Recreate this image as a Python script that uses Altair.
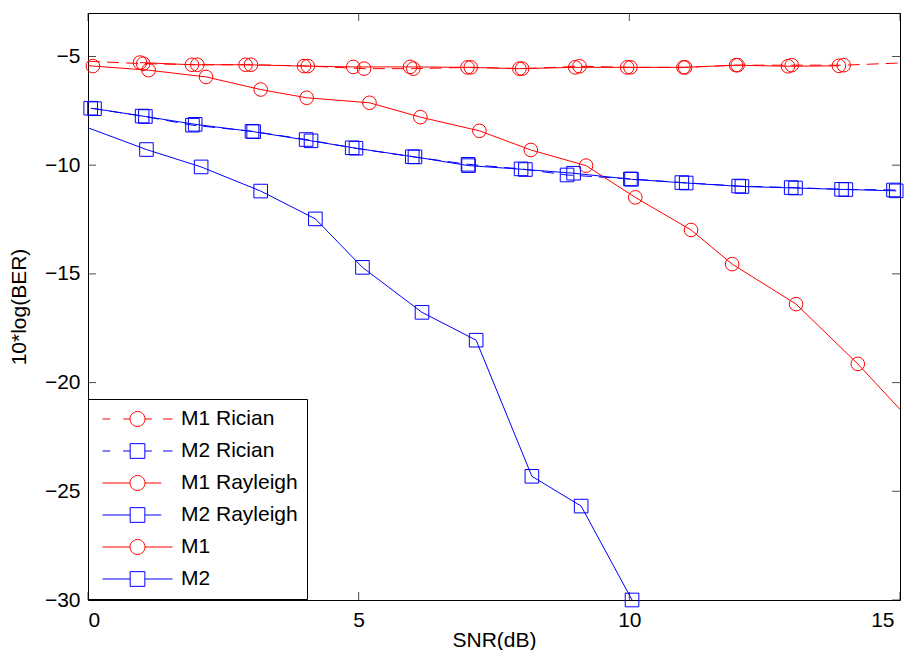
import altair as alt
import pandas as pd

# ---------------- data ----------------
series_names = ["M1 Rician", "M2 Rician", "M1 Rayleigh", "M2 Rayleigh", "M1", "M2"]
series_colors = ["#FF0000", "#0000FF", "#FF0000", "#0000FF", "#FF0000", "#0000FF"]
series_dashed = [True, True, False, False, False, False]
series_kind = ["circle", "square", "circle", "square", "circle", "square"]

m1_rician_x = [0, 1.02, 2.02, 3.01, 4.06, 5.10, 6.01, 7.07, 8.02, 9.08, 10.02, 11.03, 12.0, 13.0, 13.96, 15]
m1_rician_y = [-5.22, -5.33, -5.38, -5.38, -5.44, -5.56, -5.56, -5.50, -5.56, -5.45, -5.50, -5.50, -5.40, -5.40, -5.40, -5.30]
m1_rician_m = [0] + [1] * 14 + [0]

m2_rician_x = [0.05, 1.0, 1.93, 3.03, 4.03, 4.88, 5.99, 7.02, 8.0, 8.85, 10.02, 10.97, 12.02, 12.99, 13.92, 14.88, 15]
m2_rician_y = [-7.38, -7.74, -8.16, -8.44, -8.82, -9.20, -9.61, -9.96, -10.17, -10.45, -10.63, -10.80, -10.96, -11.03, -11.11, -11.14, -11.16]
m2_rician_m = [1] * 16 + [0]

m1_rayleigh_x = [0, 0.09, 1.12, 2.18, 3.19, 4.04, 5.2, 6.14, 7.23, 8.18, 9.2, 10.11, 11.14, 11.9, 13.08, 14.22, 15.0]
m1_rayleigh_y = [-5.42, -5.44, -5.63, -5.94, -6.52, -6.90, -7.13, -7.79, -8.42, -9.30, -10.02, -11.48, -12.98, -14.55, -16.39, -19.14, -21.23]
m1_rayleigh_m = [0] + [1] * 15 + [0]

m2_rayleigh_x = [0, 1.08, 2.09, 3.19, 4.2, 5.07, 6.17, 7.17, 8.2, 9.11, 10.05]
m2_rayleigh_y = [-8.28, -9.28, -10.08, -11.19, -12.47, -14.70, -16.77, -18.05, -24.31, -25.68, -30.0]
m2_rayleigh_m = [0] + [1] * 10

m1_x = [0.96, 1.92, 2.91, 3.99, 4.90, 5.95, 7.01, 7.97, 9.0, 9.96, 11.0, 11.97, 12.93, 13.87]
m1_y = [-5.28, -5.38, -5.38, -5.44, -5.48, -5.48, -5.50, -5.56, -5.50, -5.50, -5.50, -5.40, -5.45, -5.43]
m1_m = [1] * 14

m2_x = [0.12, 1.06, 1.98, 3.06, 4.12, 4.95, 6.04, 7.03, 8.08, 8.97, 10.04, 11.05, 12.08, 13.07, 14.0, 14.93]
m2_y = [-7.40, -7.76, -8.12, -8.46, -8.88, -9.22, -9.62, -10.02, -10.20, -10.37, -10.65, -10.82, -10.98, -11.05, -11.12, -11.18]
m2_m = [1] * 16

x_domain = [0, 15]
y_domain = [-30, -3]
x_ticks = [0, 5, 10, 15]
y_ticks = [-30, -25, -20, -15, -10, -5]

# legend symbols (line + marker) as unit-square paths
circle_path = "M0.214,0A0.214,0.214,0,1,1,-0.214,0A0.214,0.214,0,1,1,0.214,0Z"
square_path = "M-0.21,-0.21H0.21V0.21H-0.21Z"
dashed_line = "M-1,0H-0.78M-0.41,0H-0.214M0.214,0H0.41M0.73,0H1"
short_line = "M-1,0H-0.214M0.214,0H0.68"
full_line = "M-1,0H-0.214M0.214,0H1"
legend_paths = [
    dashed_line + circle_path,
    dashed_line + square_path,
    short_line + circle_path,
    short_line + square_path,
    full_line + circle_path,
    full_line + square_path,
]

# ---------------- table ----------------
all_series = [
    (m1_rician_x, m1_rician_y, m1_rician_m),
    (m2_rician_x, m2_rician_y, m2_rician_m),
    (m1_rayleigh_x, m1_rayleigh_y, m1_rayleigh_m),
    (m2_rayleigh_x, m2_rayleigh_y, m2_rayleigh_m),
    (m1_x, m1_y, m1_m),
    (m2_x, m2_y, m2_m),
]
rows = []
for name, kind, dashed, (xs, ys, ms) in zip(series_names, series_kind, series_dashed, all_series):
    for xv, yv, mv in zip(xs, ys, ms):
        rows.append({"series": name, "kind": kind, "dashed": dashed, "x": xv, "y": yv, "marker": bool(mv)})
df = pd.DataFrame(rows)

FONT = "Liberation Sans"
xscale = alt.Scale(domain=x_domain, nice=False, zero=False)
yscale = alt.Scale(domain=y_domain, nice=False, zero=False)
stroke_scale = alt.Scale(domain=series_names, range=series_colors)
xaxis = alt.Axis(
    values=x_ticks, title="SNR(dB)", labelPadding=9, format="d",
    labelOffset={"condition": {"test": "datum.value == 15", "value": -6}, "value": 0},
    titleBaseline="alphabetic", titleY=46,
)
yaxis = alt.Axis(values=y_ticks, title="10*log(BER)", labelPadding=8, titlePadding=15, format="d")

legend_cfg = alt.Legend(
    title=None, orient="none", legendX=0, legendY=386,
    symbolSize=4900, symbolStrokeWidth=1, symbolOffset=5, labelOffset=8,
    symbolFillColor="transparent", clipHeight=22,
    labelFont=FONT, labelFontSize=21, labelColor="black", labelLimit=400,
    padding=9, rowPadding=10, strokeColor="black", fillColor="white",
)
legend_layer = alt.Chart(pd.DataFrame({"series": series_names})).transform_filter("false").mark_point(
    filled=False, opacity=1, size=4900, strokeWidth=1
).encode(
    stroke=alt.Stroke("series:N", scale=stroke_scale, legend=legend_cfg),
    shape=alt.Shape("series:N", scale=alt.Scale(domain=series_names, range=legend_paths), legend=legend_cfg),
)

base = alt.Chart(df).encode(
    x=alt.X("x:Q", scale=xscale, axis=xaxis),
    y=alt.Y("y:Q", scale=yscale, axis=yaxis),
    stroke=alt.Stroke("series:N", scale=stroke_scale, legend=None),
)

lines_dashed = base.transform_filter("datum.dashed").mark_line(
    strokeWidth=1, clip=True, strokeDash=[12, 7]
).encode(detail="series:N")
lines_solid = base.transform_filter("!datum.dashed").mark_line(
    strokeWidth=1, clip=True
).encode(detail="series:N")

circles = base.transform_filter("datum.marker && datum.kind == 'circle'").mark_point(
    shape="circle", filled=False, opacity=1, size=185, strokeWidth=1
)
squares = base.transform_filter("datum.marker && datum.kind == 'square'").mark_point(
    shape="square", filled=False, opacity=1, size=185, strokeWidth=1
)

xt = pd.DataFrame({"t": x_ticks})
yt = pd.DataFrame({"t": y_ticks})
tick_bottom = alt.Chart(xt).mark_tick(orient="vertical", size=8, thickness=1, yOffset=-4, color="black").encode(
    x=alt.X("t:Q", scale=xscale, axis=xaxis), y=alt.datum(y_domain[0]))
tick_top = alt.Chart(xt).mark_tick(orient="vertical", size=8, thickness=1, yOffset=4, color="black").encode(
    x=alt.X("t:Q", scale=xscale, axis=xaxis), y=alt.datum(y_domain[1]))
tick_left = alt.Chart(yt).mark_tick(orient="horizontal", size=8, thickness=1, xOffset=4, color="black").encode(
    y=alt.Y("t:Q", scale=yscale, axis=yaxis), x=alt.datum(x_domain[0]))
tick_right = alt.Chart(yt).mark_tick(orient="horizontal", size=8, thickness=1, xOffset=-4, color="black").encode(
    y=alt.Y("t:Q", scale=yscale, axis=yaxis), x=alt.datum(x_domain[1]))

chart = alt.layer(
    legend_layer, lines_dashed, lines_solid, circles, squares,
    tick_bottom, tick_top, tick_left, tick_right
).properties(
    width=812, height=587,
    padding={"left": 80, "top": 5, "right": 6, "bottom": 50},
    autosize=alt.AutoSizeParams(type="none"),
    background="white",
).configure_view(
    stroke="black", strokeWidth=1
).configure_axis(
    grid=False, domain=False, ticks=False, tickSize=0,
    labelFont=FONT, labelFontSize=21, labelColor="black",
    titleFont=FONT, titleFontSize=21, titleFontWeight="normal", titleColor="black",
)

chart.save("out.html", embed_options={"renderer": "svg", "actions": False})
